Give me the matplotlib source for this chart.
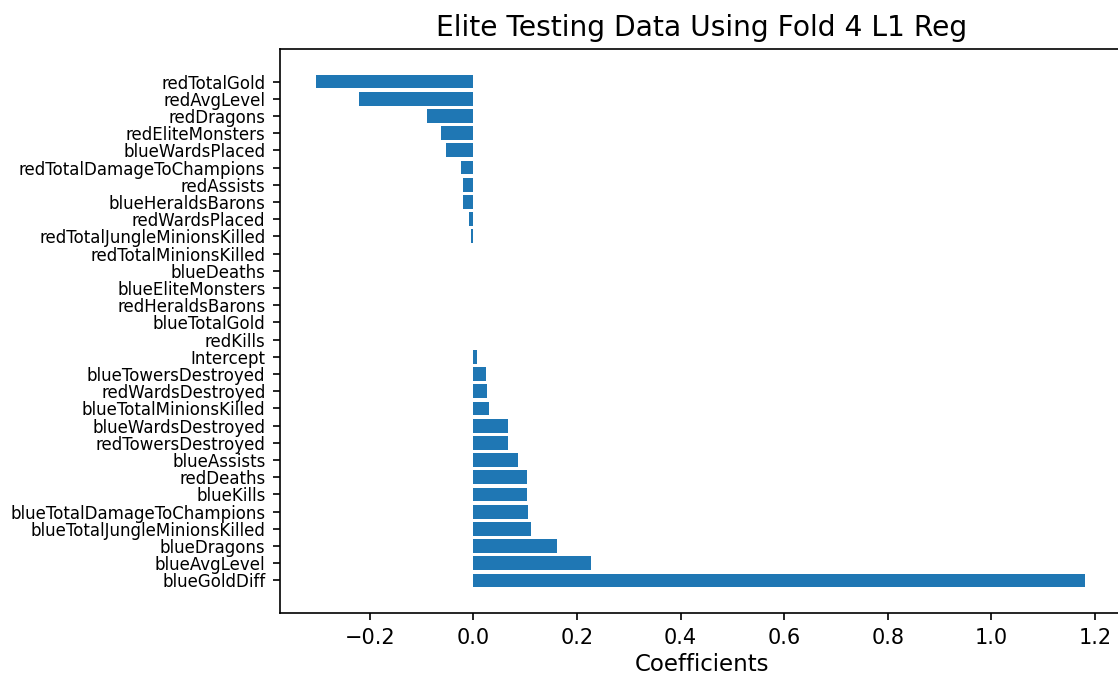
import matplotlib
matplotlib.use("Agg")
import matplotlib.pyplot as plt

# feature names, top of the chart first
features = [
    "redTotalGold", "redAvgLevel", "redDragons", "redEliteMonsters",
    "blueWardsPlaced", "redTotalDamageToChampions", "redAssists",
    "blueHeraldsBarons", "redWardsPlaced", "redTotalJungleMinionsKilled",
    "redTotalMinionsKilled", "blueDeaths", "blueEliteMonsters",
    "redHeraldsBarons", "blueTotalGold", "redKills", "Intercept",
    "blueTowersDestroyed", "redWardsDestroyed", "blueTotalMinionsKilled",
    "blueWardsDestroyed", "redTowersDestroyed", "blueAssists", "redDeaths",
    "blueKills", "blueTotalDamageToChampions", "blueTotalJungleMinionsKilled",
    "blueDragons", "blueAvgLevel", "blueGoldDiff",
]
coefs = [
    -0.304, -0.221, -0.089, -0.063,
    -0.053, -0.024, -0.021,
    -0.021, -0.008, -0.004,
    0.0, 0.0, 0.0,
    0.0, 0.0, 0.0, 0.007,
    0.024, 0.027, 0.030,
    0.066, 0.066, 0.086, 0.103,
    0.103, 0.106, 0.112,
    0.162, 0.227, 1.181,
]

# barh puts the first item at the bottom, so reverse
names = features[::-1]
vals = coefs[::-1]

W, H, DPI = 1118, 675, 150
fig = plt.figure(figsize=(W / DPI, H / DPI), dpi=DPI)
ax = fig.add_axes([280 / W, 62 / H, 844 / W, 564 / H])
ax.barh(names, vals)
ax.set_xlim(-0.3735, 1.256)
ax.tick_params(axis="y", labelsize=8)
ax.tick_params(axis="x", labelsize=10)
ax.set_xlabel("Coefficients", fontsize=11, labelpad=2.5)
ax.set_title("Elite Testing Data Using Fold 4 L1 Reg", fontsize=13.5)

fig.savefig("out.png", dpi=DPI)
